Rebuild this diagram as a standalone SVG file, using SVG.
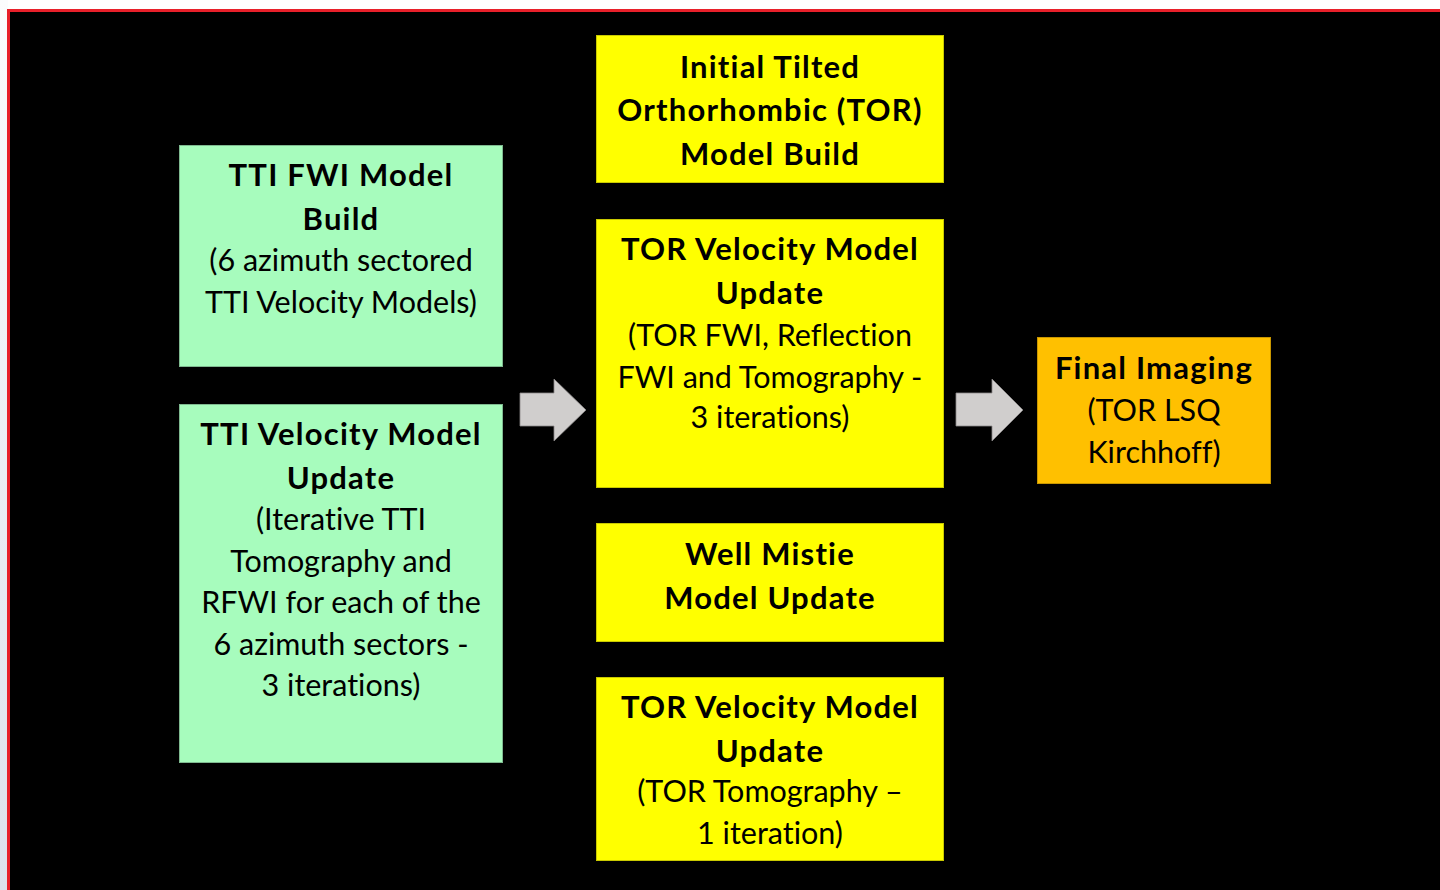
<svg xmlns="http://www.w3.org/2000/svg" width="1440" height="890" viewBox="0 0 1440 890">
  <defs>
    <linearGradient id="edge" x1="0" y1="0" x2="0" y2="1">
      <stop offset="0" stop-color="#fbfcfd"/>
      <stop offset="1" stop-color="#dde1ec"/>
    </linearGradient>
  </defs>
  <style>
    text { font-family: Lato, "Open Sans", "Liberation Sans", sans-serif; font-size: 30.5px; fill: #000; text-anchor: middle; font-variant-ligatures: none; }
    .b { font-weight: bold; font-size: 31px; letter-spacing: 1.2px; }
    .green { fill: #a7fcbd; stroke: #7fb990; stroke-width: 1; }
    .yellow { fill: #ffff00; stroke: #c9c900; stroke-width: 1; }
    .orange { fill: #ffc000; stroke: #c99700; stroke-width: 1; }
    .arrow { fill: #d0cecd; stroke: #8a8888; stroke-width: 0.8; }
  </style>

  <!-- page margin and framed black panel -->
  <rect x="0" y="0" width="1440" height="890" fill="#ffffff"/>
  <rect x="0" y="0" width="8" height="890" fill="url(#edge)"/>
  <rect x="8.5" y="10.5" width="1440" height="890" fill="#000000" stroke="#e8202a" stroke-width="3"/>

  <g id="tti-fwi-build">
    <rect class="green" x="179.5" y="145.5" width="323" height="221"/>
    <text class="b" x="341" y="186">TTI FWI Model</text>
    <text class="b" x="341" y="230">Build</text>
    <text x="341" y="271">(6 azimuth sectored</text>
    <text x="341" y="313">TTI Velocity Models)</text>
  </g>

  <g id="tti-velocity-update">
    <rect class="green" x="179.5" y="404.5" width="323" height="358"/>
    <text class="b" x="341" y="445">TTI Velocity Model</text>
    <text class="b" x="341" y="489">Update</text>
    <text x="341" y="530">(Iterative TTI</text>
    <text x="341" y="572">Tomography and</text>
    <text x="341" y="613">RFWI for each of the</text>
    <text x="341" y="655">6 azimuth sectors -</text>
    <text x="341" y="696">3 iterations)</text>
  </g>

  <g id="initial-tor-build">
    <rect class="yellow" x="596.5" y="35.5" width="347" height="147"/>
    <text class="b" x="770" y="78">Initial Tilted</text>
    <text class="b" x="770" y="121">Orthorhombic (TOR)</text>
    <text class="b" x="770" y="165">Model Build</text>
  </g>

  <g id="tor-velocity-update-fwi">
    <rect class="yellow" x="596.5" y="219.5" width="347" height="268"/>
    <text class="b" x="770" y="260">TOR Velocity Model</text>
    <text class="b" x="770" y="304">Update</text>
    <text x="770" y="346">(TOR FWI, Reflection</text>
    <text x="770" y="388">FWI and Tomography -</text>
    <text x="770" y="428">3 iterations)</text>
  </g>

  <g id="well-mistie-update">
    <rect class="yellow" x="596.5" y="523.5" width="347" height="118"/>
    <text class="b" x="770" y="565">Well Mistie</text>
    <text class="b" x="770" y="609">Model Update</text>
  </g>

  <g id="tor-velocity-update-tomo">
    <rect class="yellow" x="596.5" y="677.5" width="347" height="183"/>
    <text class="b" x="770" y="718">TOR Velocity Model</text>
    <text class="b" x="770" y="762">Update</text>
    <text x="770" y="802">(TOR Tomography –</text>
    <text x="770" y="844">1 iteration)</text>
  </g>

  <g id="final-imaging">
    <rect class="orange" x="1037.5" y="337.5" width="233" height="146"/>
    <text class="b" x="1154" y="379">Final Imaging</text>
    <text x="1154" y="421">(TOR LSQ</text>
    <text x="1154" y="463">Kirchhoff)</text>
  </g>

  <g id="connectors">
    <path class="arrow" d="M520,393 H554 V379 L586,410 L554,441 V426 H520 Z"/>
    <path class="arrow" d="M956,393 H992 V379 L1023,410 L992,441 V426 H956 Z"/>
  </g>
</svg>
